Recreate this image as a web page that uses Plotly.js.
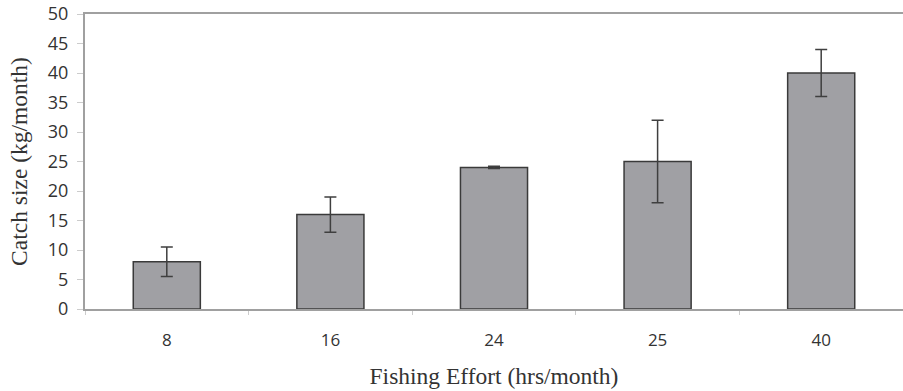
<!DOCTYPE html>
<html>
<head>
<meta charset="utf-8">
<script src="https://cdn.plot.ly/plotly-3.0.1.min.js"></script>
<style>html,body{margin:0;padding:0;background:#fff;}#chart{width:903px;height:391px;}</style>
</head>
<body>
<div id="chart"></div>
<script>
var categories = ['8', '16', '24', '25', '40'];
var catchSize = [8, 16, 24, 25, 40];
var errorValues = [2.5, 3, 0.2, 7, 4];
var yTickValues = [0, 5, 10, 15, 20, 25, 30, 35, 40, 45, 50];

var trace = {
  type: 'bar',
  x: categories,
  y: catchSize,
  width: 0.41,
  marker: {color: '#a0a0a4', line: {color: '#3a3a3a', width: 1.5}},
  error_y: {type: 'data', array: errorValues, visible: true, color: '#3f3f3f', thickness: 1.5, width: 6}
};

var layout = {
  width: 903, height: 391,
  margin: {l: 85, r: 0, t: 14, b: 82},
  paper_bgcolor: '#fff', plot_bgcolor: '#fff',
  showlegend: false,
  xaxis: {
    type: 'category',
    range: [-0.5, 4.5],
    showline: true, linecolor: '#a0a0a0', linewidth: 2, mirror: true,
    ticks: 'outside', tickson: 'boundaries', ticklen: 4, tickcolor: '#cccccc',
    ticklabelstandoff: 15,
    tickfont: {family: 'Open Sans, sans-serif', size: 17, color: '#333'},
    showgrid: false, zeroline: false,
    title: {text: 'Fishing Effort (hrs/month)', font: {family: 'Liberation Serif, serif', size: 23.5, color: '#333'}, standoff: 17}
  },
  yaxis: {
    range: [0, 50],
    tickvals: yTickValues,
    showline: true, linecolor: '#a0a0a0', linewidth: 2,
    ticks: 'outside', ticklen: 6, tickcolor: '#cccccc',
    ticklabelstandoff: 5,
    tickfont: {family: 'Open Sans, sans-serif', size: 18, color: '#333'},
    showgrid: false, zeroline: false,
    title: {text: 'Catch size (kg/month)', font: {family: 'Liberation Serif, serif', size: 23.5, color: '#333'}, standoff: 14}
  }
};

Plotly.newPlot('chart', [trace], layout, {displayModeBar: false, staticPlot: true});
</script>
</body>
</html>
